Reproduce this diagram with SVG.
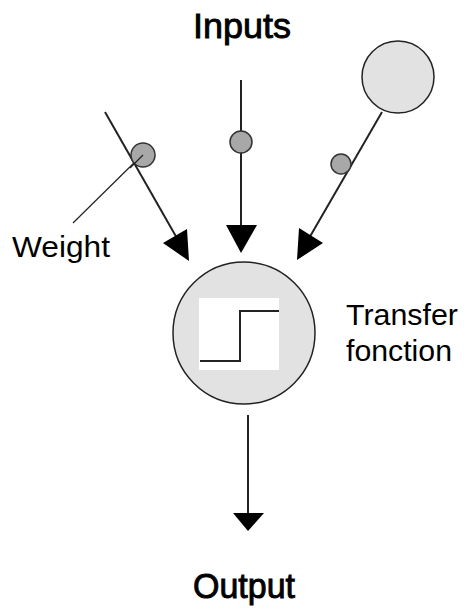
<svg xmlns="http://www.w3.org/2000/svg" width="464" height="610" viewBox="0 0 464 610">
<style>
.ln{stroke:#222;stroke-width:2;fill:none}
.thin{stroke:#222;stroke-width:1.2;fill:none}
.ah{fill:#000;stroke:none}
.w{fill:#a8a8a8;stroke:#333;stroke-width:1.5}
.big{fill:#e2e2e2;stroke:#222;stroke-width:1.5}
.t{font-family:"Liberation Sans",Arial,sans-serif;fill:#000}
.h{font-size:35px;stroke:#000;stroke-width:0.9px}
.s{font-size:30px}
</style>
<rect width="464" height="610" fill="#fff"/>
<g id="connectors">
<line class="ln" x1="105" y1="112" x2="178" y2="240"/>
<polygon class="ah" points="189,261 187,229 163,243"/>
<line class="ln" x1="241" y1="80" x2="241" y2="228"/>
<polygon class="ah" points="226,225 257,225 241,253"/>
<line class="ln" x1="382" y1="112" x2="308" y2="240"/>
<polygon class="ah" points="297,260 323,243 299,228"/>
<line class="thin" x1="142" y1="155" x2="73" y2="223"/>
<line class="ln" x1="248" y1="415" x2="248" y2="515"/>
<polygon class="ah" points="233,513 264,513 248,531"/>
</g>
<g id="weight1"><circle class="w" cx="143" cy="155" r="12"/><line class="thin" x1="143" y1="155" x2="130" y2="168"/></g>
<g id="weight2"><circle class="w" cx="241" cy="142" r="11"/></g>
<g id="weight3"><circle class="w" cx="341" cy="164" r="10"/></g>
<g id="input3"><circle class="big" cx="398" cy="77" r="36"/></g>
<g id="neuron">
<circle class="big" cx="244" cy="333" r="71"/>
<rect x="199" y="298" width="80" height="72" fill="#fff"/>
<polyline class="ln" points="200,361 240,361 240,311 279,311"/>
</g>
<g id="labels">
<text class="t h" x="193" y="38" textLength="98" lengthAdjust="spacingAndGlyphs">Inputs</text>
<text class="t s" x="12" y="257" textLength="98" lengthAdjust="spacingAndGlyphs">Weight</text>
<text class="t s" x="346" y="325" textLength="112" lengthAdjust="spacingAndGlyphs">Transfer</text>
<text class="t s" x="346" y="361" textLength="106" lengthAdjust="spacingAndGlyphs">fonction</text>
<text class="t h" x="193" y="598" textLength="102" lengthAdjust="spacingAndGlyphs">Output</text>
</g>
</svg>
